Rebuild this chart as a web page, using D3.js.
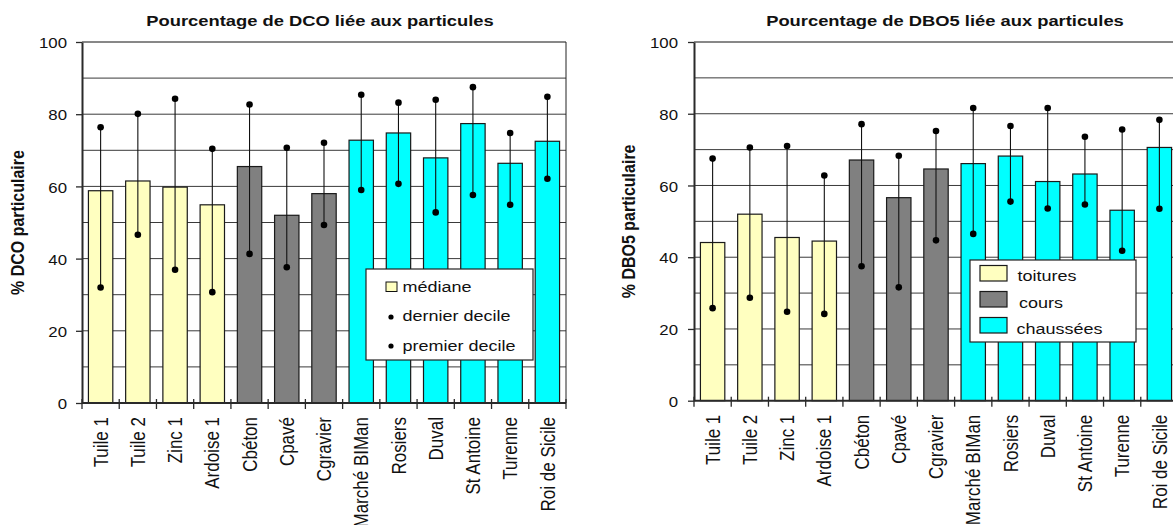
<!DOCTYPE html>
<html>
<head>
<meta charset="utf-8">
<script src="https://cdn.jsdelivr.net/npm/d3@7"></script>
<style>
  body { margin: 0; background: #fff; }
  svg { display: block; font-family: Arial, "Liberation Sans", sans-serif; }
</style>
</head>
<body>
<div id="chart"></div>
<script>
// donnees
var categories = ["Tuile 1","Tuile 2","Zinc 1","Ardoise 1","Cbéton","Cpavé","Cgravier",
                  "Marché BIMan","Rosiers","Duval","St Antoine","Turenne","Roi de Sicile"]
var surfaceOf = ["toitures","toitures","toitures","toitures","cours","cours","cours",
                 "chaussées","chaussées","chaussées","chaussées","chaussées","chaussées"]
var surfaceTypes = ["toitures","cours","chaussées"]
var surfaceColors = ["#FFFFC0","#808080","#00FFFF"]

var dcoMedian      = [58.8,61.5,59.8,54.9,65.5,52.0,58.0,72.8,74.8,67.9,77.4,66.4,72.5]
var dcoLastDecile  = [76.4,80.1,84.3,70.4,82.7,70.7,72.1,85.4,83.2,84.0,87.5,74.8,84.8]
var dcoFirstDecile = [32.0,46.6,36.9,30.7,41.3,37.6,49.3,59.0,60.7,52.8,57.6,54.9,62.1]

var dboMedian      = [44.1,52.0,45.5,44.5,67.1,56.6,64.6,66.1,68.2,61.1,63.2,53.1,70.6]
var dboLastDecile  = [67.5,70.6,71.0,62.8,77.1,68.3,75.2,81.6,76.6,81.6,73.6,75.6,78.3]
var dboFirstDecile = [25.8,28.7,24.8,24.2,37.5,31.6,44.7,46.5,55.5,53.6,54.7,41.8,53.5]

var yTicks = [0,20,40,60,80,100]
var gridValues = [10,20,30,40,50,60,70,80,90,100]
var statLegend = ["médiane","dernier decile","premier decile"]

var W = 1173, H = 525
var S = 1.2   // l'image d'origine est etiree en largeur
var color = d3.scaleOrdinal(surfaceTypes, surfaceColors)

var svg = d3.select("#chart").append("svg")
    .attr("width", W)
    .attr("height", H)

function stretched(sel, x, y, rot) {
    return sel.attr("transform", "translate(" + x + "," + y + ") scale(" + S + ",1)" + (rot ? " rotate(" + rot + ")" : ""))
}

function drawChart(cfg) {
    var rows = categories.map(function (c, i) {
        return { cat: c, type: surfaceOf[i], med: cfg.median[i], hi: cfg.last[i], lo: cfg.first[i] }
    })

    var x = d3.scaleBand()
        .domain(categories)
        .range([cfg.x0, cfg.x1])
        .paddingInner(0.345)
        .paddingOuter(0.1725)
    var y = d3.scaleLinear()
        .domain([0, 100])
        .range([cfg.yBottom, cfg.yTop])

    var g = svg.append("g")

    // quadrillage
    g.selectAll("line.grid")
        .data(gridValues)
        .enter()
        .append("line")
            .attr("class", "grid")
            .attr("x1", cfg.x0)
            .attr("x2", cfg.x1)
            .attr("y1", function (d) { return y(d) })
            .attr("y2", function (d) { return y(d) })
            .attr("stroke", function (d) { return d == 100 ? "#111" : "#3a3a3a" })
            .attr("stroke-width", 1)

    g.append("line")
        .attr("x1", cfg.x1).attr("x2", cfg.x1)
        .attr("y1", y(100)).attr("y2", y(0))
        .attr("stroke", "#222")

    // barres (mediane)
    g.selectAll("rect.bar")
        .data(rows)
        .enter()
        .append("rect")
            .attr("class", "bar")
            .attr("x", function (d) { return x(d.cat) })
            .attr("y", function (d) { return y(d.med) })
            .attr("width", x.bandwidth())
            .attr("height", function (d) { return y(0) - y(d.med) })
            .attr("fill", function (d) { return color(d.type) })
            .attr("stroke", "#1a1a1a")
            .attr("stroke-width", 1.2)

    // deciles
    var cx = function (d) { return x(d.cat) + x.bandwidth() / 2 }
    g.selectAll("line.dec")
        .data(rows)
        .enter()
        .append("line")
            .attr("class", "dec")
            .attr("x1", cx).attr("x2", cx)
            .attr("y1", function (d) { return y(d.hi) })
            .attr("y2", function (d) { return y(d.lo) })
            .attr("stroke", "#111")
            .attr("stroke-width", 1.1)
    g.selectAll("circle.hi")
        .data(rows)
        .enter()
        .append("circle")
            .attr("cx", cx)
            .attr("cy", function (d) { return y(d.hi) })
            .attr("r", 3.3)
            .attr("fill", "#000")
    g.selectAll("circle.lo")
        .data(rows)
        .enter()
        .append("circle")
            .attr("cx", cx)
            .attr("cy", function (d) { return y(d.lo) })
            .attr("r", 3.3)
            .attr("fill", "#000")

    // axe y
    var yax = g.append("g")
        .attr("transform", "translate(" + cfg.x0 + ",0)")
        .call(d3.axisLeft(y).tickValues(yTicks).tickSize(6).tickSizeOuter(0))
    yax.select(".domain").attr("stroke", "#2a2a2a").attr("stroke-width", 2)
    yax.selectAll(".tick line").attr("stroke", "#2a2a2a").attr("stroke-width", 1.3)
    yax.selectAll(".tick text")
        .attr("x", null)
        .attr("dy", "0.4em")
        .attr("font-size", 14)
        .attr("font-family", "Arial, 'Liberation Sans', sans-serif")
        .attr("fill", "#111")
        .style("text-anchor", "end")
        .attr("transform", "translate(" + (-cfg.tickGap) + ",0) scale(" + S + ",1)")

    // axe x
    g.append("line")
        .attr("x1", cfg.x0).attr("x2", cfg.x1)
        .attr("y1", y(0)).attr("y2", y(0))
        .attr("stroke", "#2a2a2a").attr("stroke-width", 2)
    var bounds = categories.map(function (c) { return x(c) - x.step() * x.paddingInner() / 2 })
    bounds.push(cfg.x1)
    g.selectAll("line.xtick")
        .data(bounds)
        .enter()
        .append("line")
            .attr("x1", function (d) { return d }).attr("x2", function (d) { return d })
            .attr("y1", y(0) - 4).attr("y2", y(0) + 6)
            .attr("stroke", "#2a2a2a").attr("stroke-width", 1.3)
    g.selectAll("text.xlab")
        .data(categories)
        .enter()
        .append("text")
            .attr("class", "xlab")
            .text(function (d) { return d })
            .attr("font-size", 17)
            .attr("text-anchor", "end")
            .attr("dy", "0.35em")
            .attr("fill", "#111")
            .each(function (d) {
                stretched(d3.select(this), x(d) + x.bandwidth() / 2, y(0) + 14, -90)
            })

    // titres
    stretched(g.append("text")
        .text(cfg.title)
        .attr("font-size", 15.3)
        .attr("font-weight", "bold")
        .attr("text-anchor", "middle")
        .attr("fill", "#111"), cfg.titleX, 26)

    stretched(g.append("text")
        .text(cfg.yLabel)
        .attr("font-size", 16)
        .attr("font-weight", "bold")
        .attr("text-anchor", "middle")
        .attr("fill", "#111"), cfg.yLabelX, (y(0) + y(100)) / 2, -90)
}

drawChart({
    median: dcoMedian, last: dcoLastDecile, first: dcoFirstDecile,
    x0: 82, x1: 566, yTop: 42, yBottom: 403, tickGap: 15,
    title: "Pourcentage de DCO liée aux particules", titleX: 320,
    yLabel: "% DCO particulaire", yLabelX: 23.5
})

drawChart({
    median: dboMedian, last: dboLastDecile, first: dboFirstDecile,
    x0: 694, x1: 1178, yTop: 42, yBottom: 400.7, tickGap: 16,
    title: "Pourcentage de DBO5 liée aux particules", titleX: 945,
    yLabel: "% DBO5 particulaire", yLabelX: 635
})

// legende gauche (statistiques)
var leg1 = svg.append("g")
leg1.append("rect")
    .attr("x", 366).attr("y", 269).attr("width", 167).attr("height", 91)
    .attr("fill", "#fff").attr("stroke", "#222").attr("stroke-width", 1.2)
leg1.append("rect")
    .attr("x", 386).attr("y", 282).attr("width", 11).attr("height", 9.5)
    .attr("fill", color("toitures")).attr("stroke", "#111")
leg1.selectAll("circle")
    .data(statLegend.slice(1))
    .enter()
    .append("circle")
        .attr("cx", 391)
        .attr("cy", function (d, i) { return 317 + 29 * i })
        .attr("r", 2.6)
        .attr("fill", "#000")
leg1.selectAll("text")
    .data(statLegend)
    .enter()
    .append("text")
        .text(function (d) { return d })
        .attr("font-size", 15)
        .attr("fill", "#111")
        .each(function (d, i) { stretched(d3.select(this), 402.5, 291.5 + 29.5 * i) })

// legende droite (types de surface)
var leg2 = svg.append("g")
leg2.append("rect")
    .attr("x", 970).attr("y", 260).attr("width", 166).attr("height", 82)
    .attr("fill", "#fff").attr("stroke", "#222").attr("stroke-width", 1.2)
leg2.selectAll("rect.sw")
    .data(surfaceTypes)
    .enter()
    .append("rect")
        .attr("class", "sw")
        .attr("x", 980)
        .attr("y", function (d, i) { return 265.5 + 26 * i })
        .attr("width", 27)
        .attr("height", 15.5)
        .attr("fill", function (d) { return color(d) })
        .attr("stroke", "#1a1a1a")
        .attr("stroke-width", 1.2)
var legX = [1017.5, 1019, 1016.5]
leg2.selectAll("text")
    .data(surfaceTypes)
    .enter()
    .append("text")
        .text(function (d) { return d })
        .attr("font-size", 15)
        .attr("fill", "#111")
        .each(function (d, i) { stretched(d3.select(this), legX[i], 281 + 26.5 * i) })
</script>
</body>
</html>
